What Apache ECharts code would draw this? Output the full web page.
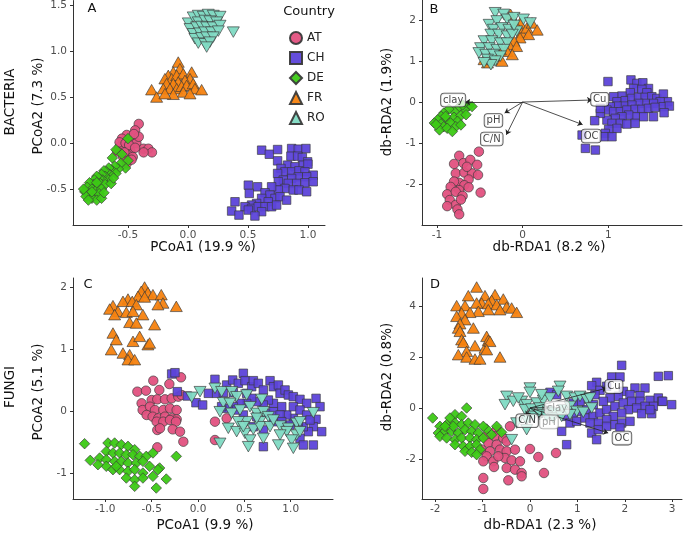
<!DOCTYPE html>
<html><head><meta charset="utf-8">
<script src="https://cdn.jsdelivr.net/npm/echarts@6/dist/echarts.min.js"></script>
<style>html,body{margin:0;padding:0;background:#fff}#c{width:683px;height:538px}</style>
</head><body><div id="c"></div>
<script>
// ---------- DATA ----------
const countries = ['AT','CH','DE','FR','RO'];

// Panel A: BACTERIA PCoA
const aAT = [[-0.41,0.21],[-0.44,0.14],[-0.51,0.09],[-0.55,0.05],[-0.47,0.03],[-0.43,0.0],[-0.525,-0.04],[-0.48,-0.08],[-0.57,-0.04],[-0.59,-0.09],[-0.50,-0.13],[-0.46,-0.15],[-0.54,-0.15],[-0.37,-0.06],[-0.33,-0.06],[-0.30,-0.10],[-0.37,-0.10],[-0.51,-0.22],[-0.47,-0.18],[-0.57,0.01],[-0.41,0.07],[-0.45,0.10],[-0.52,0.0],[-0.49,-0.02],[-0.44,-0.05],[-0.53,-0.10]];
const aCH = [[0.614,-0.076],[0.678,-0.12],[0.747,-0.069],[0.864,-0.058],[0.919,-0.065],[0.983,-0.058],[0.747,-0.192],[0.858,-0.141],[0.914,-0.141],[0.953,-0.156],[0.997,-0.203],[0.83,-0.239],[0.892,-0.257],[0.961,-0.239],[1.0,-0.228],[0.775,-0.275],[0.808,-0.312],[0.864,-0.312],[0.925,-0.301],[0.975,-0.312],[0.747,-0.33],[1.044,-0.348],[0.989,-0.366],[0.919,-0.366],[0.864,-0.384],[0.794,-0.402],[0.753,-0.42],[0.836,-0.438],[0.906,-0.438],[0.975,-0.431],[1.044,-0.42],[0.808,-0.493],[0.878,-0.51],[0.925,-0.51],[0.989,-0.529],[0.753,-0.51],[0.697,-0.475],[0.503,-0.457],[0.58,-0.475],[0.511,-0.547],[0.642,-0.54],[0.683,-0.565],[0.725,-0.601],[0.767,-0.583],[0.822,-0.62],[0.614,-0.601],[0.669,-0.638],[0.572,-0.656],[0.53,-0.674],[0.475,-0.692],[0.392,-0.638],[0.364,-0.739],[0.425,-0.783],[0.53,-0.71],[0.503,-0.728],[0.586,-0.692],[0.642,-0.692],[0.697,-0.692],[0.614,-0.746],[0.558,-0.793],[0.739,-0.674]];
const aDE = [[-0.50,0.05],[-0.60,-0.07],[-0.55,-0.12],[-0.63,-0.16],[-0.50,-0.19],[-0.52,-0.27],[-0.56,-0.22],[-0.58,-0.28],[-0.61,-0.25],[-0.63,-0.3],[-0.66,-0.27],[-0.6,-0.33],[-0.65,-0.34],[-0.68,-0.31],[-0.7,-0.3],[-0.69,-0.36],[-0.72,-0.34],[-0.66,-0.4],[-0.71,-0.4],[-0.74,-0.38],[-0.76,-0.36],[-0.78,-0.4],[-0.73,-0.44],[-0.69,-0.45],[-0.75,-0.47],[-0.79,-0.45],[-0.82,-0.43],[-0.84,-0.48],[-0.8,-0.5],[-0.77,-0.52],[-0.72,-0.5],[-0.86,-0.53],[-0.82,-0.55],[-0.78,-0.57],[-0.74,-0.55],[-0.85,-0.58],[-0.8,-0.6],[-0.76,-0.62],[-0.72,-0.6],[-0.83,-0.62],[-0.7,-0.54],[-0.87,-0.5],[-0.64,-0.44],[-0.62,-0.38],[-0.76,-0.43],[-0.8,-0.53]];
const aFR = [[-0.081,0.884],[-0.067,0.812],[-0.122,0.775],[-0.164,0.739],[-0.192,0.703],[-0.136,0.703],[-0.094,0.739],[-0.039,0.757],[0.031,0.775],[0.017,0.703],[-0.025,0.685],[-0.081,0.667],[-0.122,0.649],[-0.178,0.649],[-0.206,0.594],[-0.15,0.594],[-0.094,0.594],[-0.053,0.62],[-0.011,0.63],[0.044,0.649],[0.058,0.594],[0.114,0.583],[-0.039,0.558],[0.017,0.54],[-0.122,0.533],[-0.303,0.583],[-0.261,0.503],[-0.192,0.54]];
const aRO = [[0.003,1.308],[0.044,1.373],[0.086,1.391],[0.128,1.38],[0.169,1.402],[0.211,1.391],[0.267,1.38],[0.086,1.319],[0.142,1.337],[0.183,1.33],[0.239,1.319],[0.017,1.246],[0.072,1.264],[0.114,1.272],[0.156,1.264],[0.211,1.264],[0.267,1.282],[0.044,1.192],[0.1,1.199],[0.142,1.21],[0.197,1.21],[0.253,1.221],[0.058,1.138],[0.114,1.148],[0.156,1.156],[0.211,1.156],[0.086,1.09],[0.142,1.083],[0.183,1.101],[0.156,1.047],[0.378,1.21]];

// Panel B: BACTERIA db-RDA
const bAT = [[-0.51,-1.21],[-0.74,-1.31],[-0.80,-1.51],[-0.69,-1.49],[-0.61,-1.41],[-0.53,-1.53],[-0.78,-1.74],[-0.68,-1.72],[-0.59,-1.74],[-0.52,-1.78],[-0.63,-1.89],[-0.74,-1.97],[-0.80,-1.94],[-0.68,-2.03],[-0.74,-2.15],[-0.63,-2.08],[-0.84,-2.07],[-0.88,-2.25],[-0.78,-2.19],[-0.70,-2.29],[-0.49,-2.21],[-0.85,-2.39],[-0.78,-2.51],[-0.88,-2.54],[-0.76,-2.62],[-0.74,-2.74],[-0.65,-1.58],[-0.72,-2.38]];
const bCH = [[0.996,0.50],[1.264,0.54],[1.334,0.455],[1.403,0.47],[1.469,0.33],[1.295,0.33],[1.392,0.309],[1.45,0.228],[1.256,0.228],[1.159,0.146],[1.062,0.13],[1.101,0.008],[1.198,0.033],[1.275,0.089],[1.353,0.114],[1.43,0.114],[1.508,0.13],[1.566,0.089],[1.643,0.195],[1.69,0.008],[1.605,0.008],[1.527,-0.033],[1.43,-0.033],[1.353,-0.033],[1.275,-0.073],[1.178,-0.098],[1.101,-0.098],[1.023,-0.114],[0.984,-0.195],[1.062,-0.236],[1.14,-0.236],[1.217,-0.195],[1.314,-0.179],[1.392,-0.179],[1.469,-0.154],[1.547,-0.13],[1.643,-0.114],[1.713,-0.098],[1.651,-0.26],[1.527,-0.358],[1.411,-0.358],[1.314,-0.358],[1.237,-0.317],[1.159,-0.358],[1.081,-0.398],[0.984,-0.439],[1.043,-0.52],[1.14,-0.52],[1.217,-0.537],[1.101,-0.642],[1.004,-0.667],[0.907,-0.276],[0.907,-0.154],[0.841,-0.455],[0.965,-0.764],[1.043,-0.846],[0.946,-0.846],[0.733,-1.13],[0.849,-1.171],[0.694,-0.805],[1.314,-0.52]];
const bDE = [[-0.625,-0.09],[-0.68,-0.19],[-0.74,-0.12],[-0.80,-0.23],[-0.86,-0.17],[-0.92,-0.27],[-0.95,-0.35],[-0.99,-0.43],[-1.03,-0.51],[-0.95,-0.53],[-0.88,-0.42],[-0.80,-0.37],[-0.72,-0.33],[-0.66,-0.31],[-0.76,-0.47],[-0.84,-0.51],[-0.92,-0.60],[-0.97,-0.68],[-0.88,-0.64],[-0.78,-0.60],[-0.72,-0.56],[-0.82,-0.72],[-0.59,-0.11],[-0.70,-0.07],[-0.90,-0.35],[-1.01,-0.55]];
const bFR = [[-0.14,2.14],[-0.03,1.93],[-0.08,1.89],[-0.01,1.69],[0.05,1.81],[0.11,1.93],[0.17,1.76],[0.07,1.65],[-0.03,1.57],[-0.10,1.49],[-0.16,1.40],[-0.07,1.36],[-0.18,1.24],[-0.12,1.16],[-0.26,1.28],[-0.30,1.12],[-0.36,1.04],[-0.41,0.96],[-0.24,1.00],[-0.39,1.08],[-0.45,1.04]];
const bRO = [[-0.32,2.18],[-0.22,2.14],[-0.39,1.89],[-0.30,1.98],[-0.18,2.02],[-0.10,2.06],[0.01,2.02],[0.09,1.93],[-0.34,1.77],[-0.24,1.81],[-0.16,1.77],[-0.07,1.73],[-0.37,1.65],[-0.28,1.65],[-0.18,1.61],[-0.12,1.65],[-0.45,1.49],[-0.36,1.49],[-0.26,1.44],[-0.18,1.44],[-0.49,1.32],[-0.39,1.32],[-0.30,1.28],[-0.22,1.28],[-0.51,1.20],[-0.43,1.16],[-0.34,1.16],[-0.26,1.12],[-0.41,1.04],[-0.32,1.00],[-0.37,0.91],[-0.45,0.96],[-0.10,1.87]];
const bEnvNames = ['clay','Cu','OC','pH','C/N'];
const bEnvArrow = [[-0.67,0.0],[0.81,0.05],[0.70,-0.55],[-0.21,-0.27],[-0.19,-0.80]];
const bEnvLabel = [[-0.81,0.05],[0.90,0.07],[0.80,-0.83],[-0.34,-0.45],[-0.36,-0.90]];

// Panel C: FUNGI PCoA
const cAT = [[-0.482,0.489],[-0.183,0.543],[-0.309,0.435],[-0.417,0.339],[-0.654,0.312],[-0.561,0.328],[-0.608,0.124],[-0.5,0.177],[-0.439,0.188],[-0.356,0.188],[-0.284,0.204],[-0.212,0.231],[-0.176,0.258],[-0.597,0.016],[-0.518,0.07],[-0.464,0.016],[-0.374,0.016],[-0.302,0.043],[-0.23,0.016],[-0.554,-0.064],[-0.489,-0.091],[-0.428,-0.118],[-0.356,-0.091],[-0.284,-0.118],[-0.23,-0.134],[-0.446,-0.172],[-0.374,-0.172],[-0.302,-0.145],[-0.237,-0.172],[-0.439,-0.306],[-0.41,-0.279],[-0.273,-0.296],[-0.194,-0.333],[-0.158,-0.495],[-0.439,-0.586],[0.183,-0.172],[0.309,-0.118],[0.183,-0.468]];
const cCH = [[-0.284,0.597],[-0.248,0.618],[-0.223,0.312],[-0.022,0.134],[0.05,0.097],[-0.115,0.242],[0.112,0.285],[0.183,0.511],[0.201,0.285],[0.273,0.296],[0.309,0.419],[0.374,0.5],[0.381,0.296],[0.435,0.446],[0.489,0.608],[0.507,0.489],[0.525,0.285],[0.579,0.392],[0.597,0.489],[0.651,0.446],[0.705,0.339],[0.777,0.489],[0.813,0.392],[0.867,0.419],[0.885,0.285],[0.939,0.339],[0.975,0.258],[1.028,0.231],[1.1,0.188],[1.172,0.124],[1.273,0.204],[1.316,0.07],[1.273,-0.134],[1.334,-0.333],[1.244,-0.253],[1.19,-0.333],[1.136,-0.253],[1.082,-0.172],[1.028,-0.118],[0.957,-0.064],[0.903,0.07],[0.813,0.124],[0.759,0.177],[0.705,0.097],[0.633,0.151],[0.579,0.204],[0.525,0.124],[0.453,0.124],[0.381,0.07],[0.309,0.043],[0.741,-0.038],[0.813,-0.011],[0.885,-0.064],[0.633,-0.091],[0.705,-0.306],[0.597,-0.253],[0.993,-0.226],[1.1,-0.441],[1.136,-0.548],[1.244,-0.548],[0.705,-0.575],[0.489,-0.064],[0.417,0.016],[1.028,0.07],[1.1,0.016],[1.172,-0.064],[1.208,-0.145],[0.903,-0.172],[0.813,-0.172],[0.255,0.07]];
const cDE = [[-1.223,-0.527],[-1.162,-0.796],[-0.971,-0.516],[-0.899,-0.516],[-0.827,-0.543],[-0.755,-0.57],[-0.683,-0.624],[-0.989,-0.651],[-0.917,-0.677],[-0.845,-0.677],[-0.773,-0.704],[-0.701,-0.704],[-0.629,-0.731],[-0.558,-0.731],[-1.061,-0.758],[-0.989,-0.785],[-0.899,-0.812],[-0.827,-0.812],[-0.755,-0.839],[-0.665,-0.839],[-0.594,-0.812],[-0.522,-0.892],[-0.414,-0.919],[-0.989,-0.892],[-0.917,-0.946],[-0.845,-0.946],[-0.755,-0.973],[-0.683,-0.946],[-0.594,-1.0],[-0.486,-1.054],[-0.342,-1.097],[-0.773,-1.081],[-0.683,-1.108],[-0.594,-1.081],[-0.45,-1.242],[-0.683,-1.215],[-0.486,-0.677],[-0.234,-0.731],[-0.881,-0.892],[-1.079,-0.866],[-0.432,-0.946]];
const cFR = [[-0.576,2.0],[-0.612,1.93],[-0.54,1.91],[-0.486,1.876],[-0.647,1.85],[-0.755,1.806],[-0.809,1.769],[-0.709,1.769],[-0.576,1.839],[-0.396,1.876],[-0.378,1.742],[-0.234,1.688],[-0.432,1.715],[-0.665,1.715],[-0.917,1.699],[-0.953,1.645],[-0.863,1.608],[-0.899,1.554],[-0.773,1.591],[-0.701,1.608],[-0.594,1.554],[-0.737,1.43],[-0.665,1.419],[-0.468,1.392],[-0.917,1.258],[-0.881,1.151],[-0.701,1.124],[-0.629,1.204],[-0.54,1.07],[-0.522,1.097],[-0.935,0.989],[-0.809,0.935],[-0.737,0.909],[-0.755,0.828],[-0.683,0.828]];
const cRO = [[-0.068,0.221],[0.022,0.312],[0.183,0.366],[0.255,0.312],[0.363,0.312],[0.417,0.231],[0.525,0.258],[0.687,0.188],[0.273,0.134],[0.345,0.124],[0.237,-0.011],[0.363,-0.038],[0.453,0.016],[0.561,0.07],[0.633,-0.038],[0.705,-0.011],[0.759,-0.091],[0.669,-0.172],[0.525,-0.172],[0.435,-0.172],[0.327,-0.279],[0.417,-0.333],[0.507,-0.36],[0.597,-0.296],[0.669,-0.253],[0.777,-0.253],[0.885,-0.242],[0.975,-0.279],[1.064,-0.199],[1.1,-0.172],[1.244,-0.027],[0.957,-0.333],[1.064,-0.387],[1.01,-0.468],[0.885,-0.387],[0.867,-0.548],[1.028,-0.602],[0.705,-0.441],[0.561,-0.468],[0.543,-0.575],[0.237,-0.521],[0.489,-0.253],[0.813,-0.145],[0.633,-0.118],[1.1,-0.333]];

// Panel D: FUNGI db-RDA
const dAT = [[-0.703,-0.85],[-0.422,-0.719],[-0.914,-1.111],[-0.738,-1.111],[-0.563,-1.176],[-0.879,-1.373],[-0.703,-1.438],[-0.492,-1.307],[-1.02,-1.634],[-0.844,-1.699],[-0.633,-1.634],[-0.492,-1.699],[-0.316,-1.634],[-0.914,-1.895],[-0.985,-2.092],[-0.774,-2.092],[-0.527,-1.961],[-0.387,-2.052],[-0.211,-2.092],[0.176,-1.922],[0.0,-1.608],[0.549,-1.765],[-0.759,-2.314],[-0.492,-2.353],[-0.316,-2.418],[-0.176,-2.549],[0.295,-2.549],[-0.985,-2.745],[-0.457,-2.837],[-0.985,-3.176],[-0.176,-2.68],[-0.668,-1.895]];
const dCH = [[1.934,1.673],[1.723,1.216],[1.899,1.216],[2.707,1.242],[2.918,1.268],[1.406,1.007],[1.301,0.876],[1.617,0.85],[1.477,0.693],[1.371,0.523],[1.231,0.353],[1.055,0.261],[0.914,0.196],[2.215,0.784],[2.426,0.784],[1.969,0.654],[2.11,0.523],[2.321,0.484],[1.864,0.458],[1.688,0.392],[1.547,0.261],[1.336,0.131],[1.196,-0.065],[1.055,-0.131],[0.914,-0.196],[0.774,-0.327],[0.844,-0.588],[0.985,-0.523],[1.16,-0.392],[1.336,-0.327],[1.477,-0.196],[1.617,-0.065],[1.793,0.065],[1.969,0.196],[2.145,0.261],[2.321,0.261],[2.532,0.301],[2.707,0.392],[2.778,0.261],[2.602,0.065],[2.426,0.065],[2.25,0.0],[2.075,-0.065],[1.934,-0.196],[1.758,-0.327],[1.617,-0.458],[1.442,-0.588],[1.266,-0.588],[1.301,-0.98],[1.442,-0.85],[1.617,-0.719],[1.793,-0.654],[1.934,-0.588],[2.11,-0.523],[2.356,-0.222],[2.567,-0.222],[2.532,-0.065],[1.899,-0.784],[1.406,-1.242],[0.774,-1.438],[0.668,-0.915],[2.989,0.131],[2.799,0.261],[0.422,0.614],[0.563,0.523]];
const dDE = [[-2.053,-0.392],[-1.336,0.0],[-1.582,-0.261],[-1.442,-0.327],[-1.688,-0.392],[-1.899,-0.719],[-1.758,-0.654],[-1.582,-0.588],[-1.442,-0.654],[-1.301,-0.588],[-1.16,-0.654],[-1.934,-0.98],[-1.793,-0.915],[-1.653,-0.915],[-1.512,-0.98],[-1.371,-0.85],[-1.231,-0.915],[-1.09,-0.98],[-0.914,-0.824],[-1.899,-1.111],[-1.758,-1.176],[-1.582,-1.242],[-1.442,-1.176],[-1.266,-1.176],[-1.125,-1.242],[-0.985,-1.176],[-1.582,-1.438],[-1.406,-1.503],[-1.266,-1.503],[-1.125,-1.438],[-1.371,-1.699],[-1.231,-1.739],[-1.055,-1.634],[-1.125,-1.83],[-0.598,-0.954],[-0.809,-1.046],[-0.703,-0.719],[-1.617,-0.719],[-1.793,-0.719],[-0.985,-0.719]];
const dFR = [[-1.125,4.745],[-1.301,4.405],[-0.949,4.405],[-0.738,4.444],[-0.563,4.275],[-0.809,4.222],[-1.02,4.118],[-1.547,4.013],[-1.371,4.013],[-1.125,4.118],[-0.879,4.092],[-0.703,4.052],[-0.492,3.961],[-0.387,3.922],[-0.281,3.752],[-0.633,3.856],[-0.879,3.856],[-1.09,3.791],[-1.266,3.752],[-1.442,3.725],[-1.547,3.595],[-1.371,3.464],[-1.477,3.307],[-1.512,3.137],[-1.195,3.137],[-1.477,3.007],[-1.442,2.68],[-0.914,2.81],[-0.879,2.654],[-1.406,2.575],[-1.16,2.444],[-0.949,2.353],[-0.844,2.614],[-1.336,2.222],[-1.512,2.092],[-1.336,2.0],[-1.16,1.922],[-1.055,1.922],[-0.633,2.0],[-0.914,2.288]];
const dRO = [[-0.492,0.458],[-0.527,0.131],[-0.352,0.261],[-0.176,0.261],[0.0,0.784],[0.0,0.614],[-0.07,0.131],[0.141,0.196],[0.281,0.301],[0.422,0.392],[0.633,0.85],[0.598,0.654],[0.774,0.458],[0.949,0.392],[1.055,0.458],[1.196,0.327],[1.266,0.392],[-0.105,-0.065],[0.035,-0.039],[0.211,0.0],[0.387,-0.131],[0.527,-0.196],[0.703,-0.065],[0.844,0.065],[0.985,-0.131],[1.125,-0.17],[1.301,0.0],[-0.07,-0.458],[0.07,-0.327],[0.211,-0.261],[0.352,-0.327],[0.492,-0.392],[0.668,-0.327],[-0.281,-0.588],[-0.07,-0.85],[-0.387,-1.242],[0.844,-0.261],[0.246,0.523],[-0.246,0.392]];
const dEnvNames = ['clay','Cu','OC','pH','C/N'];
const dEnvArrow = [[0.40,0.02],[1.62,0.78],[1.65,-0.98],[0.28,-0.38],[-0.08,-0.32]];
const dEnvLabel = [[0.57,0.0],[1.77,0.84],[1.94,-1.18],[0.40,-0.55],[-0.06,-0.50]];

// tick values and labels
const aXTicks = [-0.5,0,0.5,1], aXLabels = ['-0.5','0.0','0.5','1.0'];
const aYTicks = [-0.5,0,0.5,1,1.5], aYLabels = ['-0.5','0.0','0.5','1.0','1.5'];
const bXTicks = [-1,0,1], bXLabels = ['-1','0','1'];
const bYTicks = [-2,-1,0,1,2], bYLabels = ['-2','-1','0','1','2'];
const cXTicks = [-1,-0.5,0,0.5,1], cXLabels = ['-1.0','-0.5','0.0','0.5','1.0'];
const cYTicks = [-1,0,1,2], cYLabels = ['-1','0','1','2'];
const dXTicks = [-2,-1,0,1,2,3], dXLabels = ['-2','-1','0','1','2','3'];
const dYTicks = [-2,0,2,4], dYLabels = ['-2','0','2','4'];

// ---------- STYLE / LAYOUT ----------
const FONT = 'DejaVu Sans';
const colors = {AT:'#E2517F', CH:'#5C43D9', DE:'#3CC915', FR:'#F5820F', RO:'#80DAC3'};
const symbols = {AT:'circle', CH:'rect', DE:'diamond', FR:'triangle', RO:'triangle'};
const sizes = {AT:9.5, CH:8.5, DE:[10.5,10.5], FR:[12,10.5], RO:[12,10.5]};
const rotates = {AT:0, CH:0, DE:0, FR:0, RO:180};

const panels = [
  {grid:{left:73, top:0, width:252, height:225}, x:[-0.958,1.142], y:[-0.891,1.554],
   xt:aXTicks, xl:aXLabels, yt:aYTicks, yl:aYLabels, data:{AT:aAT,CH:aCH,DE:aDE,FR:aFR,RO:aRO}},
  {grid:{left:422, top:0, width:260, height:225}, x:[-1.174,1.86], y:[-3.0,2.49],
   xt:bXTicks, xl:bXLabels, yt:bYTicks, yl:bYLabels, data:{AT:bAT,CH:bCH,DE:bDE,FR:bFR,RO:bRO},
   env:{names:bEnvNames, arrow:bEnvArrow, label:bEnvLabel, faded:[]}},
  {grid:{left:73, top:278, width:260, height:221}, x:[-1.348,1.456], y:[-1.419,2.145],
   xt:cXTicks, xl:cXLabels, yt:cYTicks, yl:cYLabels, data:{AT:cAT,CH:cCH,DE:cDE,FR:cFR,RO:cRO}},
  {grid:{left:422, top:278, width:260, height:221}, x:[-2.278,3.207], y:[-3.569,5.098],
   xt:dXTicks, xl:dXLabels, yt:dYTicks, yl:dYLabels, data:{AT:dAT,CH:dCH,DE:dDE,FR:dFR,RO:dRO},
   env:{names:dEnvNames, arrow:dEnvArrow, label:dEnvLabel, faded:['clay','pH']}}
];

function lbl(ticks, labels){
  return function(v){ let best=0,bd=1e9; ticks.forEach((t,i)=>{const d=Math.abs(t-v); if(d<bd){bd=d;best=i;}}); return labels[best]; };
}
const axisLineStyle = {show:true, onZero:false, lineStyle:{color:'#333', width:1}};

const grids=[], xAxes=[], yAxes=[], series=[];
panels.forEach((p,i)=>{
  grids.push(p.grid);
  xAxes.push({type:'value', gridIndex:i, min:p.x[0], max:p.x[1], axisLine:axisLineStyle,
    axisTick:{show:true, length:3, customValues:p.xt, lineStyle:{color:'#333'}},
    axisLabel:{show:true, customValues:p.xt, formatter:lbl(p.xt,p.xl), color:'#4d4d4d', fontFamily:FONT, fontSize:10.5, margin:5},
    splitLine:{show:false}});
  yAxes.push({type:'value', gridIndex:i, min:p.y[0], max:p.y[1], axisLine:axisLineStyle,
    axisTick:{show:true, length:3, customValues:p.yt, lineStyle:{color:'#333'}},
    axisLabel:{show:true, customValues:p.yt, formatter:lbl(p.yt,p.yl), color:'#4d4d4d', fontFamily:FONT, fontSize:10.5, margin:6},
    splitLine:{show:false}});
  countries.forEach(c=>{
    series.push({type:'scatter', name:c, xAxisIndex:i, yAxisIndex:i, data:p.data[c],
      symbol:symbols[c], symbolSize:sizes[c], symbolRotate:rotates[c],
      itemStyle:{color:colors[c], borderColor:'#3a3a3a', borderWidth:0.7, opacity:0.95},
      emphasis:{disabled:true}, z:2});
  });
  if(p.env){
    series.push({type:'lines', coordinateSystem:'cartesian2d', xAxisIndex:i, yAxisIndex:i, z:5,
      symbol:['none','arrow'], symbolSize:5,
      lineStyle:{color:'#222', width:0.8, opacity:1, curveness:0},
      data:p.env.arrow.map(a=>({coords:[[0,0],a]})), silent:true});
    series.push({type:'scatter', xAxisIndex:i, yAxisIndex:i, z:6, symbolSize:1,
      itemStyle:{color:'rgba(0,0,0,0)', borderWidth:0}, silent:true, emphasis:{disabled:true},
      data:p.env.names.map((n,k)=>({value:p.env.label[k], name:n,
        label:{show:true, position:'inside', formatter:n, fontFamily:FONT, fontSize:10,
          color: p.env.faded.includes(n)?'#8a8a8a':'#111',
          backgroundColor:'rgba(255,255,255,0.95)', borderColor: p.env.faded.includes(n)?'#9a9a9a':'#222',
          borderWidth:0.8, borderRadius:3, padding:[2,2,1,2]}}))});
  }
});

function txt(x,y,text,size,opts){
  return Object.assign({type:'text', x:x, y:y, style:{text:text, font:size+'px "'+FONT+'"', fill:'#111', textAlign:'center', textVerticalAlign:'middle'}}, opts||{});
}
const graphics = [
  txt(92,9,'A',13), txt(434,10,'B',13), txt(88,285,'C',13), txt(435,285,'D',13),
  txt(203,247,'PCoA1 (19.9 %)',13.5), txt(549,247,'db-RDA1 (8.2 %)',13.5),
  txt(205,525,'PCoA1 (9.9 %)',13.5), txt(540,525,'db-RDA1 (2.3 %)',13.5),
  txt(38,106,'PCoA2 (7.3 %)',13.5,{rotation:Math.PI/2}), txt(387,102,'db-RDA2 (1.9%)',13.5,{rotation:Math.PI/2}),
  txt(38,392,'PCoA2 (5.1 %)',13.5,{rotation:Math.PI/2}), txt(387,377,'db-RDA2 (0.8%)',13.5,{rotation:Math.PI/2}),
  txt(10,102,'BACTERIA',13.5,{rotation:Math.PI/2}), txt(10,387,'FUNGI',13.5,{rotation:Math.PI/2}),
  txt(309,12,'Country',13)
];

const chart = echarts.init(document.getElementById('c'), null, {renderer:'canvas'});
chart.setOption({
  animation:false, backgroundColor:'#fff',
  grid:grids, xAxis:xAxes, yAxis:yAxes, series:series,
  legend:{data:countries, orient:'vertical', left:284, top:26, itemWidth:12, itemHeight:12, itemGap:6,
    textStyle:{fontFamily:FONT, fontSize:12, color:'#222'}, selectedMode:false},
  graphic:graphics
});
</script></body></html>
